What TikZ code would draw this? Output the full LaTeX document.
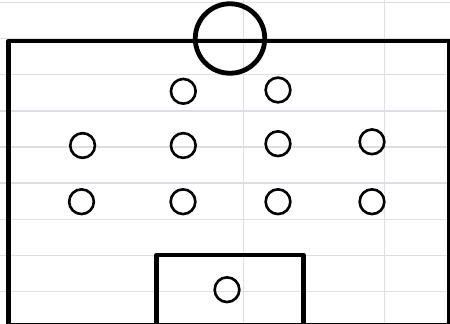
\documentclass[tikz,border=0pt]{standalone}
\definecolor{gridgray}{RGB}{220,222,226}
\tikzset{
  gridline/.style={draw=gridgray, line width=1.3pt},
  fieldline/.style={draw=black, line width=4.8pt, line join=round, line cap=round},
  player/.style={circle, draw=black, line width=2.6pt, minimum size=24.7pt, inner sep=0pt},
  centrecircle/.style={circle, draw=black, line width=4.8pt, minimum size=69.5pt, inner sep=0pt}
}
\begin{document}
\begin{tikzpicture}[x=1pt, y=-1pt]
\useasboundingbox (0,0) rectangle (450,324);
\fill[white] (0,0) rectangle (450,324);
% spreadsheet grid
\foreach \gy in {2.6,38.7,74.8,110.9,147.0,183.1,219.2,255.3,291.4}
  \draw[gridline] (0,\gy) -- (450,\gy);
\foreach \gx in {243.3,384.3}
  \draw[gridline] (\gx,0) -- (\gx,324);
% field
\draw[fieldline] (8.6,325.3) -- (8.6,41) -- (449.6,41) -- (449.6,325.3) -- cycle;
% centre circle
\node[centrecircle] (centre) at (230,38.5) {};
% penalty box
\coordinate (pbl) at (156.7,330);
\coordinate (pbr) at (303.5,330);
\draw[fieldline] (pbl) -- (156.7,255) -- (303.5,255) -- (pbr);
% players
\node[player] (p1) at (183.3,91.3) {};
\node[player] (p2) at (278,90) {};
\node[player] (p3) at (82.6,145.5) {};
\node[player] (p4) at (183.3,145.5) {};
\node[player] (p5) at (278,143.7) {};
\node[player] (p6) at (372,141.8) {};
\node[player] (p7) at (81.5,201.7) {};
\node[player] (p8) at (183,201.7) {};
\node[player] (p9) at (278,201.7) {};
\node[player] (p10) at (372,201.7) {};
\node[player] (gk) at (227,289.7) {};
\end{tikzpicture}
\end{document}
